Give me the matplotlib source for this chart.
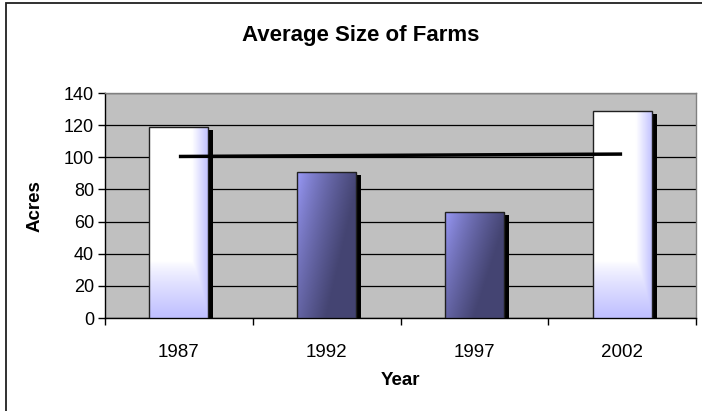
import matplotlib
matplotlib.use("Agg")
import matplotlib.pyplot as plt
import numpy as np
from matplotlib.patches import Rectangle

years = ["1987", "1992", "1997", "2002"]
acres = [119, 91, 66, 129]
bar_style = ["light", "dark", "dark", "light"]
yticks = [0, 20, 40, 60, 80, 100, 120, 140]

plt.rcParams["font.family"] = ["Liberation Sans", "DejaVu Sans"]

W, H = 702, 411
fig = plt.figure(figsize=(W / 100, H / 100), dpi=100)
ax = fig.add_axes([105 / W, 1 - 318 / H, (696 - 105) / W, (318 - 93) / H])
ax.set_facecolor("#c0c0c0")

# outer chart border (only top/left edges fall inside the image)
fig.patches.append(Rectangle((6 / W, -0.05), 1.1, 1 - 3 / H + 0.05,
                             transform=fig.transFigure, fill=False,
                             edgecolor="#202020", lw=1.3))

x = np.arange(len(years))
bw = 0.4
ax.set_xlim(-0.5, 3.5)
ax.set_ylim(0, 140)

# px -> data units for the drop shadow
px_x = 5.0 / (591 / 4)
px_y = 3.0 / (225 / 140)

def gradient_img(kind, h):
    n = 200
    u = np.linspace(0, 1, n)[None, :]
    v = np.linspace(0, 1, n)[:, None]  # 0 = bottom
    if kind == "light":
        th = np.clip((u - 0.72) / 0.28, 0, 1)
        fade = 35.0 / h
        tv = np.clip((fade - v) / fade, 0, 1) ** 0.8
        t = np.maximum(th, tv)
        c0 = np.array([1.0, 1.0, 1.0])
        c1 = np.array([0.75, 0.75, 1.0])
    else:
        t = np.clip(u * 0.95 + (1 - v) * 0.55, 0, 1) ** 0.75
        c0 = np.array([0.62, 0.62, 1.0])
        c1 = np.array([0.27, 0.27, 0.45])
    img = c0[None, None, :] * (1 - t[..., None]) + c1[None, None, :] * t[..., None]
    return img

for xi, h, kind in zip(x, acres, bar_style):
    # shadow
    ax.bar(xi + px_x, h - px_y, width=bw, bottom=0, color="black", zorder=2)
    bar = ax.bar(xi, h, width=bw, color="none", edgecolor="#202020",
                 lw=1.0, zorder=4)[0]
    im = ax.imshow(gradient_img(kind, h), origin="lower", aspect="auto",
                   extent=(xi - bw / 2, xi + bw / 2, 0, h), zorder=3,
                   interpolation="bilinear")
    im.set_clip_path(bar)

# linear trendline through the bars
coef = np.polyfit(x, acres, 1)
ax.plot(x[[0, -1]], np.polyval(coef, x[[0, -1]]), color="black", lw=2.5,
        zorder=5, solid_capstyle="butt")

ax.set_yticks(yticks)
ax.yaxis.grid(True, color="black", lw=0.9, zorder=1)
ax.set_axisbelow(True)
ax.tick_params(axis="y", direction="out", length=5, width=1, labelsize=13,
               pad=3)

ax.set_xticks(np.arange(-0.5, 4, 1))
ax.set_xticklabels([])
ax.set_xticks(x, minor=True)
ax.set_xticklabels(years, minor=True)
ax.tick_params(axis="x", which="major", direction="out", length=5, width=1)
ax.tick_params(axis="x", which="minor", length=0, labelsize=13.5, pad=19)

for side in ["top", "right"]:
    ax.spines[side].set_color("#808080")
    ax.spines[side].set_linewidth(1.0)
for side in ["left", "bottom"]:
    ax.spines[side].set_color("black")
    ax.spines[side].set_linewidth(1.0)

fig.text(361 / W, 1 - 36 / H, "Average Size of Farms", ha="center",
         va="center", fontsize=16, fontweight="bold")
fig.text(400 / W, 1 - 380 / H, "Year", ha="center", va="center",
         fontsize=13.5, fontweight="bold")
fig.text(35 / W, 1 - 206 / H, "Acres", ha="center", va="center",
         rotation=90, fontsize=13.5, fontweight="bold")

fig.savefig("out.png", dpi=100)
